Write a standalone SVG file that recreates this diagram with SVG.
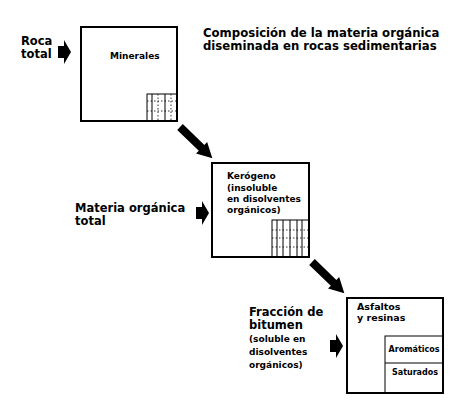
<svg xmlns="http://www.w3.org/2000/svg" width="450" height="400" viewBox="0 0 450 400">
<style>
text{font-family:"DejaVu Sans",Verdana,sans-serif;font-weight:bold;fill:#000}
.big{font-size:11.5px}
.med{font-size:9px}
.sm{font-size:8px}
.box{fill:#fff;stroke:#000;stroke-width:2}
.in{fill:none;stroke:#000;stroke-width:1}
.dot{fill:none;stroke:#000;stroke-width:0.8;stroke-dasharray:1.5 2}
.fat{fill:#000}
</style>
<defs>
<path id="diag" d="M0,-4 H30 V-8 L45,0 L30,8 V4 H0 Z"/>
<path id="side" d="M0,-6 H6 V-12 L13,0 L6,12 V6 H0 Z"/>
</defs>
<rect width="450" height="400" fill="#fff"/>
<g id="title">
<text class="big" x="203" y="37" style="font-size:11.7px">Composición de la materia orgánica</text>
<text class="big" x="203" y="50" style="font-size:11.7px">diseminada en rocas sedimentarias</text>
</g>
<g id="roca-total">
<text class="big" x="21" y="45">Roca</text>
<text class="big" x="21" y="58">total</text>
<use href="#side" class="fat" x="58" y="52"/>
</g>
<g id="materia-organica-total">
<text class="big" x="75" y="212">Materia orgánica</text>
<text class="big" x="75" y="225">total</text>
<use href="#side" class="fat" x="196" y="213"/>
</g>
<g id="fraccion-bitumen">
<text class="big" x="249" y="316">Fracción de</text>
<text class="big" x="249" y="329">bitumen</text>
<text class="med" x="249" y="342">(soluble en</text>
<text class="med" x="249" y="355">disolventes</text>
<text class="med" x="249" y="368">orgánicos)</text>
<use href="#side" class="fat" x="330" y="346"/>
</g>
<g id="box-minerales">
<rect class="box" x="81" y="27" width="96" height="94"/>
<text class="med" x="110" y="59">Minerales</text>
<rect class="in" x="147" y="94" width="30" height="27"/>
<line class="in" x1="152" y1="94" x2="152" y2="121"/>
<line class="in" x1="165" y1="94" x2="165" y2="121"/>
<line class="dot" x1="158" y1="94" x2="158" y2="121"/>
<line class="dot" x1="171" y1="94" x2="171" y2="121"/>
<line class="dot" x1="147" y1="101" x2="177" y2="101"/>
<line class="dot" x1="147" y1="111" x2="177" y2="111"/>
</g>
<g id="box-kerogeno">
<rect class="box" x="212" y="163" width="97" height="94"/>
<text class="med" x="227" y="179">Kerógeno</text>
<text class="med" x="227" y="190.5">(insoluble</text>
<text class="med" x="227" y="202">en disolventes</text>
<text class="med" x="227" y="213">orgánicos)</text>
<rect class="in" x="272" y="220" width="37" height="37"/>
<line class="in" x1="277" y1="220" x2="277" y2="257"/>
<line class="in" x1="283" y1="220" x2="283" y2="257"/>
<line class="in" x1="290" y1="220" x2="290" y2="257"/>
<line class="in" x1="297" y1="220" x2="297" y2="257"/>
<line class="in" x1="302" y1="220" x2="302" y2="257"/>
<line class="dot" x1="272" y1="230" x2="309" y2="230"/>
<line class="dot" x1="272" y1="238" x2="309" y2="238"/>
<line class="dot" x1="272" y1="247" x2="309" y2="247"/>
</g>
<g id="box-bitumen">
<rect class="box" x="347" y="298" width="96" height="95"/>
<text x="357" y="310" style="font-size:9.5px">Asfaltos</text>
<text x="357" y="321" style="font-size:9.5px">y resinas</text>
<rect class="in" x="385" y="336" width="58" height="57"/>
<line class="in" x1="385" y1="363" x2="443" y2="363"/>
<text class="sm" x="414" y="352" text-anchor="middle">Aromáticos</text>
<text class="sm" x="415" y="375" text-anchor="middle">Saturados</text>
</g>
<g id="connectors">
<use href="#diag" class="fat" transform="translate(180,127) rotate(44)"/>
<use href="#diag" class="fat" transform="translate(312,262) rotate(44)"/>
</g>
</svg>
